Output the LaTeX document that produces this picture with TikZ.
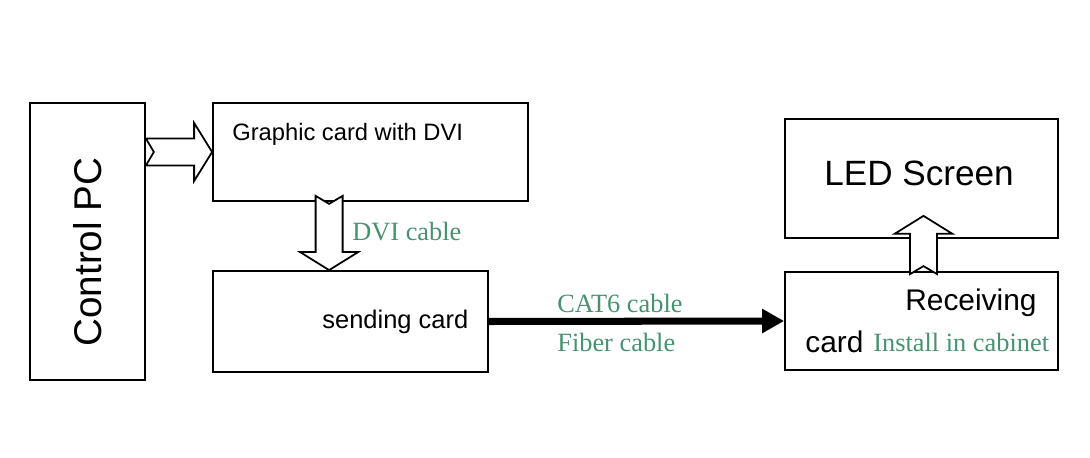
\documentclass[tikz,border=0pt]{standalone}
\definecolor{cablegreen}{RGB}{72, 146, 112}
\usepackage{fontspec}
\setmainfont{Liberation Sans}
\newfontfamily\cablefont{Liberation Serif}
\usetikzlibrary{arrows.meta,positioning,calc}

\tikzset{
  card/.style={draw, line width=1pt, minimum width=#1, inner sep=0pt},
  cablelabel/.style={anchor=west, inner sep=0pt, text=cablegreen, font=\cablefont\fontsize{15}{18}\selectfont},
  hollow/.style={draw, line width=1pt, fill=white, line join=miter}
}

% notched block arrow from #1 (tail) to #2 (tip)
\newcommand{\blockarrow}[2]{%
  \path ($(#2)!0.36cm!(#1)$) coordinate (hb);
  \draw[hollow] ($(#1)!0.27cm!90:(#2)$) -- ($(hb)!0.27cm!90:(#2)$)
    -- ($(hb)!0.58cm!90:(#2)$) -- (#2) -- ($(hb)!0.58cm!-90:(#2)$)
    -- ($(hb)!0.27cm!-90:(#2)$) -- ($(#1)!0.27cm!-90:(#2)$)
    -- ($(#1)!0.16cm!(#2)$) -- cycle;
}

\begin{document}
\begin{tikzpicture}
  \useasboundingbox (0,0) rectangle (21.8,9.16);

  % boxes
  \node[card=2.3cm, minimum height=5.54cm] (pc) at (1.75,4.33) {};
  \node[card=6.3cm, minimum height=1.96cm] (gfx) at (7.41,6.12) {};
  \node[card=5.5cm, minimum height=2.02cm] (send) at (7.01,2.73) {};
  \node[card=5.46cm, minimum height=2.38cm] (led) at (18.43,5.59) {};
  \node[card=5.46cm, minimum height=1.96cm] (recv) at (18.43,2.74) {};

  % texts
  \node[rotate=90, font=\fontsize{22}{26}\selectfont] (pctext) at (1.75,4.12) {Control PC};
  \node[anchor=west, inner sep=0pt, font=\fontsize{13.5}{16}\selectfont] (gfxtext) at (4.64,6.48) {Graphic card with DVI};
  \node[anchor=west, inner sep=0pt, font=\fontsize{14.5}{17}\selectfont] (sendtext) at (6.44,2.72) {sending card};
  \node[font=\fontsize{20}{24}\selectfont] (ledtext) at (18.38,5.70) {LED Screen};
  \node[anchor=west, inner sep=0pt, font=\fontsize{17}{20}\selectfont] (recvtext) at (18.10,3.10) {Receiving};
  \node[anchor=west, inner sep=0pt, font=\fontsize{17}{20}\selectfont] (cardtext) at (16.10,2.32) {card};
  \node[cablelabel] (install) at (17.46,2.32) {Install in cabinet};

  \node[cablelabel] (dvi) at (7.04,4.52) {DVI cable};
  \node[cablelabel] (cat) at (11.14,3.10) {CAT6 cable};
  \node[cablelabel] (fiber) at (11.14,2.32) {Fiber cable};

  % connectors
  \coordinate (pcout) at (pc.east |- gfx.west);
  \blockarrow{pcout}{gfx.west}

  \coordinate (gfxout) at ($(gfx.south west)+(2.34,0.12)$);
  \coordinate (sendin) at (gfxout |- send.north);
  \blockarrow{gfxout}{sendin}

  \coordinate (recvout) at ($(recv.north)+(0.04,-0.06)$);
  \coordinate (ledin) at ($(led.south)+(0.04,0.46)$);
  \blockarrow{recvout}{ledin}

  \draw[line width=4pt, -{Triangle[length=0.44cm, width=0.46cm]}] (send.east) -- (recv.west);
\end{tikzpicture}
\end{document}
